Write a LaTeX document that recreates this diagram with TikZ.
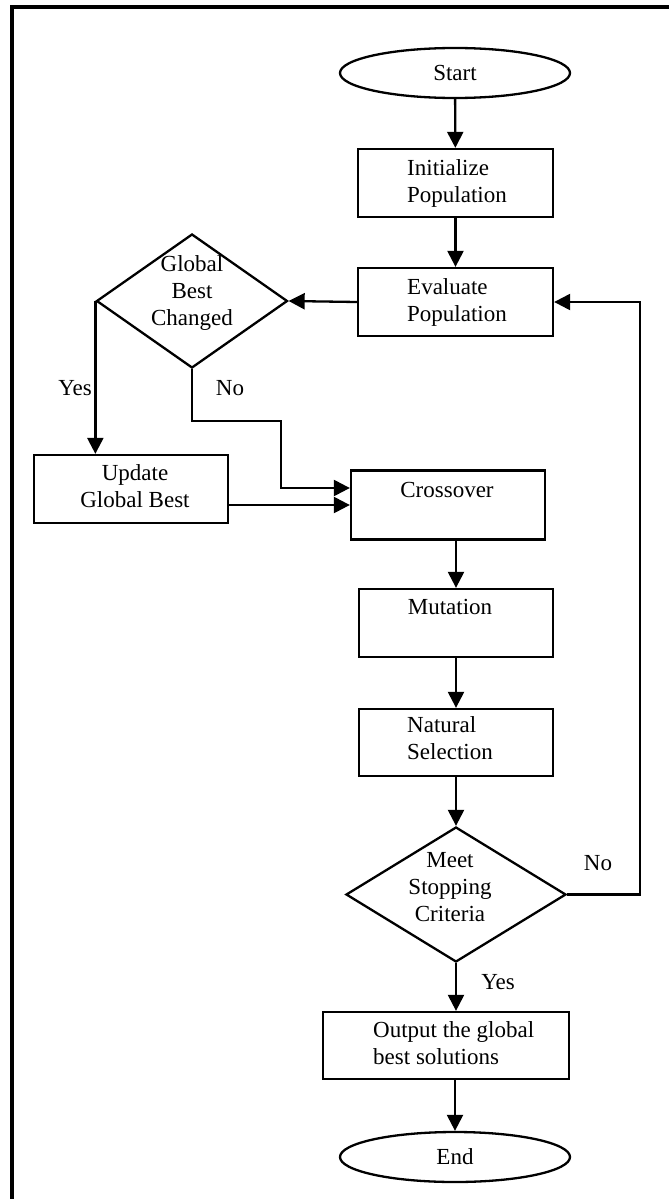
\documentclass[tikz,border=0pt]{standalone}
\usepackage{fontspec}
\setmainfont{Liberation Serif}
\usetikzlibrary{shapes.geometric,arrows.meta}
\begin{document}
\begin{tikzpicture}[x=1pt,y=-1pt,
  box/.style={draw,line width=2.3pt,rectangle,inner sep=0pt,minimum width=#1,minimum height=68pt},
  oval/.style={draw,line width=2.3pt,ellipse,inner sep=0pt,minimum width=230pt,minimum height=50pt},
  dia/.style={draw,line width=2.3pt,diamond,inner sep=0pt},
  txt/.style={inner sep=0pt,font=\fontsize{23}{27}\selectfont},
  arr/.style={line width=2.3pt,-{Triangle[width=16pt,length=16pt]}}]
\useasboundingbox (0,0) rectangle (669,1199);
% frame (cropped)
\draw[line width=3.5pt] (669,7) -- (12,7) -- (12,1199);
% shapes
\node[oval] (start) at (455,73) {};
\node[box=195pt] (init) at (455.5,183) {};
\node[box=195pt] (eval) at (455.5,302) {};
\node[dia,minimum width=191pt,minimum height=134pt] (gb) at (192,301) {};
\node[box=194pt] (upd) at (131,489) {};
\node[box=194pt,minimum height=69pt] (cross) at (448,505) {};
\node[box=194pt] (mut) at (456,623) {};
\node[box=194pt,minimum height=67pt] (nat) at (456,742.5) {};
\node[dia,minimum width=220pt,minimum height=135pt] (meet) at (456,894.5) {};
\node[box=246pt,minimum height=67pt] (out) at (446,1045.5) {};
\node[oval] (end) at (455,1157) {};
% texts
\node[txt] (tstart) at (455,73) {Start};
\node[txt,align=left,anchor=west] (tinit) at (407,183) {Initialize\\Population};
\node[txt,align=left,anchor=west] (teval) at (407,302) {Evaluate\\Population};
\node[txt,align=center] (tgb) at (192,293) {Global\\Best\\Changed};
\node[txt,align=center] (tupd) at (135,486) {Update\\Global Best};
\node[txt] (tcross) at (447,490) {Crossover};
\node[txt] (tmut) at (450,607) {Mutation};
\node[txt,align=left,anchor=west] (tnat) at (407,738) {Natural\\Selection};
\node[txt,align=center] (tmeet) at (450,887) {Meet\\Stopping\\Criteria};
\node[txt,align=left,anchor=west] (tout) at (373,1043) {Output the global\\best solutions};
\node[txt] (tend) at (455,1157) {End};
% labels
\node[txt] (lyes1) at (75,388) {Yes};
\node[txt] (lno1) at (230,388) {No};
\node[txt] (lno2) at (598,863) {No};
\node[txt] (lyes2) at (498,982) {Yes};
% connectors
\coordinate (nob) at (281,421);
\coordinate (loop) at (640,600);
\draw[arr] (start) -- (init);
\draw[arr] (init) -- (eval);
\draw[arr] (eval.west) -- (gb.east);
\draw[arr] (gb.west) -- (gb.west |- upd.north);
\draw[arr] (gb.south) |- (nob) |- ([yshift=17pt]cross.west);
\draw[arr] (upd.east |- cross.west) -- (cross.west);
\draw[arr] (mut.north |- cross.south) -- (mut.north);
\draw[arr] (mut) -- (nat);
\draw[arr] (nat.south) -- (meet.north);
\draw[arr] (meet.east) -| (loop) |- (eval.east);
\draw[arr] (meet.south) -- (meet.south |- out.north);
\draw[arr] (end.north |- out.south) -- (end.north);
\end{tikzpicture}
\end{document}
